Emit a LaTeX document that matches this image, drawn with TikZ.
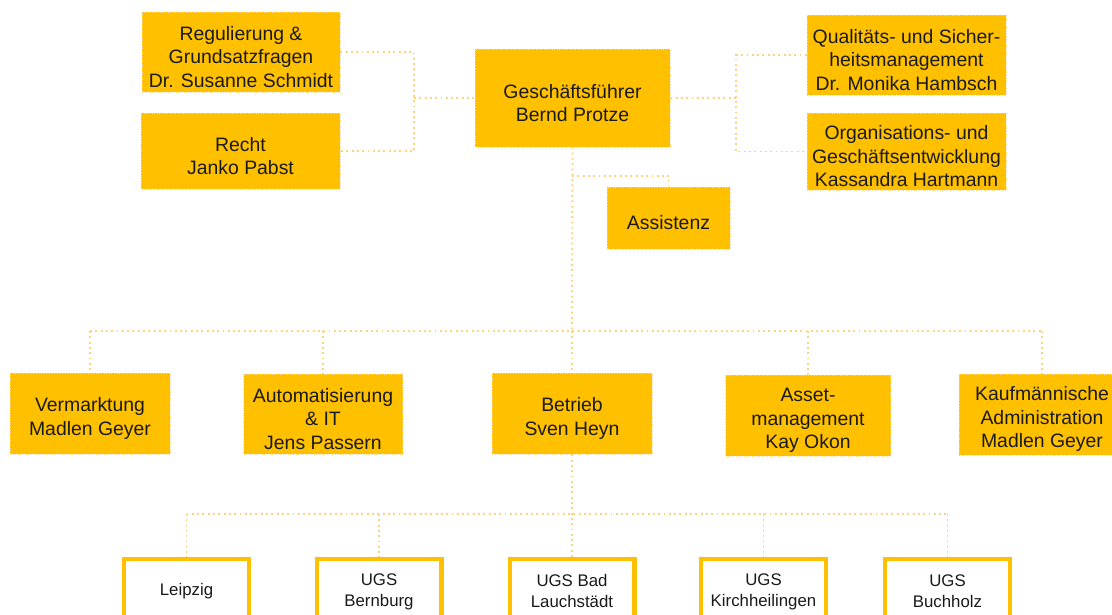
\documentclass[tikz,border=0pt]{standalone}
\usepackage{fontspec}
\setmainfont{Liberation Sans}
\definecolor{gold}{HTML}{FFC000}
\definecolor{dotc}{HTML}{FFD27F}
\definecolor{edgec}{HTML}{FFDB8A}
\definecolor{txtc}{HTML}{1A1A1A}
\newcommand{\myupa}{\rule{0pt}{24pt}}
\newcommand{\myupb}{\rule{0pt}{16pt}}
\begin{document}
\begin{tikzpicture}[x=1pt,y=-1pt,
  conn/.style={draw=dotc, line width=1.9pt, dash pattern=on 1.9pt off 3.4pt},
  unit/.style={fill=gold, draw=edgec, dotted, line width=0.6pt, inner sep=0pt, align=center, text=txtc, font=\fontsize{19.4}{23.5}\selectfont},
  ugs/.style={fill=white, draw=gold, line width=3pt, inner sep=0pt, align=center, minimum width=126pt, minimum height=62pt, text=txtc, font=\fontsize{16.8}{21}\selectfont}]
\useasboundingbox (0,0) rectangle (1112,614);
\fill[white] (0,0) rectangle (1112,614);
\clip (0,0) rectangle (1112,614);

% top level
\node[unit, minimum width=198pt, minimum height=80pt] (reg) at (241,52) {\myupa Regulierung \&\\Grundsatzfragen\\Dr. Susanne Schmidt};
\node[unit, minimum width=199pt, minimum height=76pt] (recht) at (240.5,151) {\myupa Recht\\Janko Pabst};
\node[unit, minimum width=195pt, minimum height=98pt] (gf) at (572.5,98) {\myupa Gesch\"aftsf\"uhrer\\Bernd Protze};
\node[unit, minimum width=199pt, minimum height=80pt] (qual) at (906.5,55) {\myupa Qualit\"ats- und Sicher-\\heitsmanagement\\Dr. Monika Hambsch};
\node[unit, minimum width=199pt, minimum height=77pt] (org) at (906.5,151.5) {\myupa Organisations- und\\Gesch\"aftsentwicklung\\Kassandra Hartmann};
\node[unit, minimum width=123pt, minimum height=62pt] (assist) at (668.5,218) {\myupa Assistenz};

% second level
\node[unit, minimum width=160pt, minimum height=81pt] (verm) at (90,413.5) {\myupa Vermarktung\\Madlen Geyer};
\node[unit, minimum width=159pt, minimum height=80pt] (auto) at (323,414) {\myupa Automatisierung\\\& IT\\Jens Passern};
\node[unit, minimum width=160pt, minimum height=81pt] (betr) at (572,413.5) {\myupa Betrieb\\Sven Heyn};
\node[unit, minimum width=165pt, minimum height=81pt] (asset) at (808,415.5) {\myupa Asset-\\management\\Kay Okon};
\node[unit, minimum width=166pt, minimum height=81pt] (kauf) at (1042,414.5) {\myupa Kaufm\"annische\\Administration\\Madlen Geyer};

% third level
\node[ugs] (leip) at (186.5,589.5) {\myupb Leipzig};
\node[ugs] (bern) at (379,589.5) {\myupb UGS\\Bernburg};
\node[ugs] (bad) at (572,589.5) {\myupb UGS Bad\\Lauchst\"adt};
\node[ugs] (kirch) at (763.5,589.5) {\myupb UGS\\Kirchheilingen};
\node[ugs] (buch) at (947.5,589.5) {\myupb UGS\\Buchholz};
\foreach \n in {leip,bern,bad,kirch,buch}
  \draw[gold, line width=1.3pt] ([shift={(3.6,3.6)}]\n.north west) rectangle ([shift={(-3.6,-3.6)}]\n.south east);

% connectors
\coordinate (jl) at (414,98);
\coordinate (jr) at (736,98);
\coordinate (ab) at (572,176);
\coordinate (bus) at (572,331);
\coordinate (lbus) at (572,514);
\draw[conn] (reg.east) -| (jl) |- (recht.east);
\draw[conn] (jl) -- (gf.west);
\draw[conn] (gf.east) -- (jr);
\draw[conn] (qual.west) -| (jr) |- (org.west);
\draw[conn] (gf.south) -- (bus);
\draw[conn] (ab) -| (assist.north);
\draw[conn] (verm.north |- bus) -- (kauf.north |- bus);
\foreach \n in {verm,auto,betr,asset,kauf}
  \draw[conn] (\n.north |- bus) -- (\n.north);
\draw[conn] (betr.south) -- (bad.north);
\draw[conn] (leip.north |- lbus) -- (buch.north |- lbus);
\foreach \n in {leip,bern,kirch,buch}
  \draw[conn] (\n.north |- lbus) -- (\n.north);
\end{tikzpicture}
\end{document}
